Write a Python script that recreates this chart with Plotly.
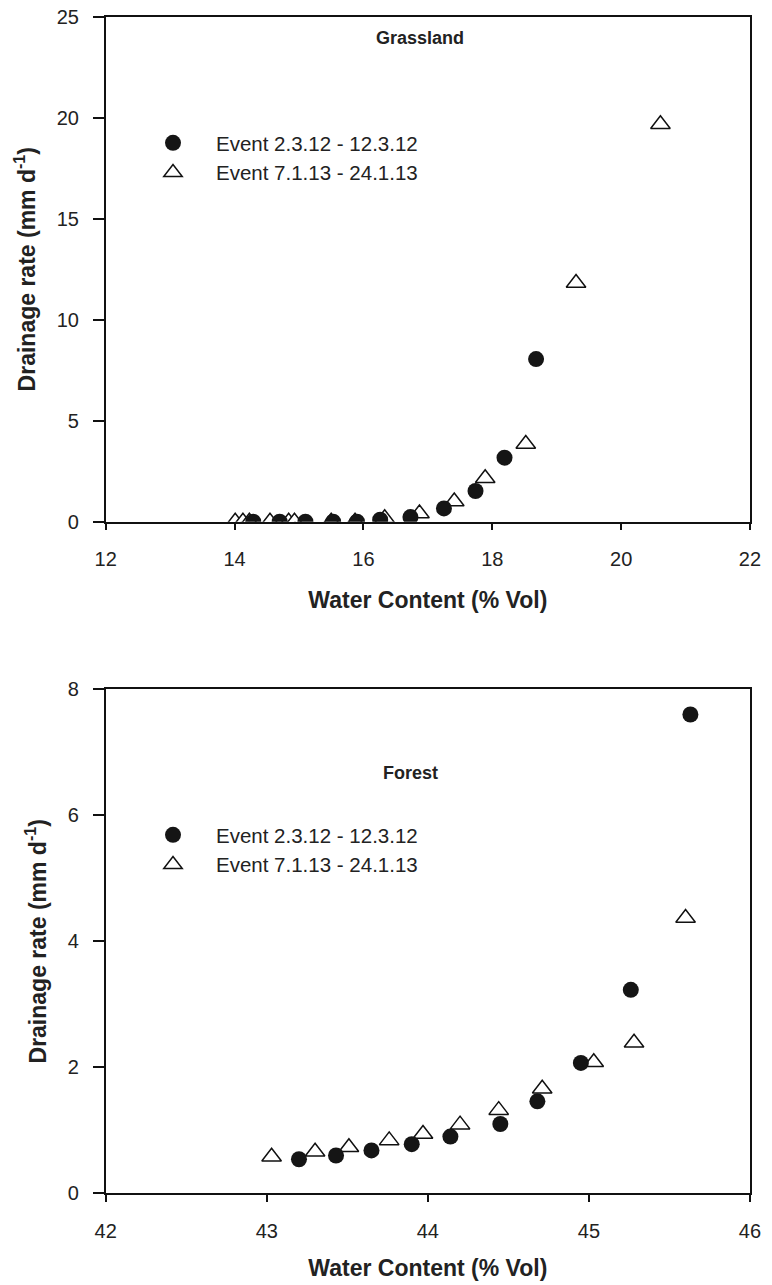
import plotly.graph_objects as go

# ---- data: Grassland ----
grass_ev1_x = [14.29, 14.70, 15.10, 15.53, 15.90, 16.26, 16.73, 17.25, 17.74, 18.19, 18.68]
grass_ev1_y = [0.0, 0.0, 0.0, 0.0, 0.0, 0.10, 0.23, 0.66, 1.52, 3.17, 8.05]
grass_ev2_x = [14.01, 14.13, 14.23, 14.55, 14.84, 14.93, 15.50, 15.87, 16.33, 16.87, 17.41, 17.89, 18.52, 19.30, 20.61]
grass_ev2_y = [0.0, 0.0, 0.0, 0.0, 0.0, 0.0, 0.0, 0.0, 0.17, 0.41, 1.00, 2.15, 3.85, 11.82, 19.68]

# ---- data: Forest ----
forest_ev1_x = [43.20, 43.43, 43.65, 43.90, 44.14, 44.45, 44.68, 44.95, 45.26, 45.63]
forest_ev1_y = [0.54, 0.60, 0.68, 0.78, 0.90, 1.10, 1.46, 2.07, 3.23, 7.60]
forest_ev2_x = [43.03, 43.30, 43.51, 43.76, 43.97, 44.20, 44.44, 44.71, 45.03, 45.28, 45.60]
forest_ev2_y = [0.58, 0.66, 0.73, 0.84, 0.94, 1.09, 1.32, 1.66, 2.08, 2.39, 4.37]

name1 = "Event 2.3.12 - 12.3.12"
name2 = "Event 7.1.13 - 24.1.13"

grass_xticks = [12, 14, 16, 18, 20, 22]
grass_yticks = [0, 5, 10, 15, 20, 25]
forest_xticks = [42, 43, 44, 45, 46]
forest_yticks = [0, 2, 4, 6, 8]

FONT = "Liberation Sans, Arial, sans-serif"
circ = dict(symbol="circle", size=16, color="#151515", line=dict(width=0))
tri = dict(symbol="triangle-up", size=17, color="white", line=dict(color="#111111", width=1.5))

fig = go.Figure()
fig.add_trace(go.Scatter(x=grass_ev2_x, y=grass_ev2_y, mode="markers", marker=tri, name=name2,
                         xaxis="x", yaxis="y", legend="legend", legendrank=2))
fig.add_trace(go.Scatter(x=grass_ev1_x, y=grass_ev1_y, mode="markers", marker=circ, name=name1,
                         xaxis="x", yaxis="y", legend="legend", legendrank=1))
fig.add_trace(go.Scatter(x=forest_ev2_x, y=forest_ev2_y, mode="markers", marker=tri, name=name2,
                         xaxis="x2", yaxis="y2", legend="legend2", legendrank=2))
fig.add_trace(go.Scatter(x=forest_ev1_x, y=forest_ev1_y, mode="markers", marker=circ, name=name1,
                         xaxis="x2", yaxis="y2", legend="legend2", legendrank=1))

axcommon = dict(showgrid=False, zeroline=False, showline=True, linecolor="#111111", linewidth=1.5,
                mirror=True, ticks="outside", tickcolor="#111111", tickwidth=1.5,
                tickfont=dict(family=FONT, size=20, color="#222222"), automargin=False)
titlefont = dict(family=FONT, size=23, color="#222222", weight="bold")

legfont = dict(family=FONT, size=20.5, color="#222222")

fig.update_layout(
    width=772, height=1285,
    margin=dict(l=0, r=0, t=0, b=0),
    paper_bgcolor="white", plot_bgcolor="white",
    showlegend=True,
    xaxis=dict(**axcommon, domain=[0.1369, 0.9715], range=[12, 22], tickvals=grass_xticks, ticklen=7,
               ticklabelstandoff=12, anchor="y",
               title=dict(text="Water Content (% Vol)", font=titlefont, standoff=22)),
    yaxis=dict(**axcommon, domain=[0.5940, 0.9870], range=[0, 25], tickvals=grass_yticks, ticklen=11,
               ticklabelstandoff=10, anchor="x",
               title=dict(text="Drainage rate (mm d<sup>-1</sup>)", font=titlefont, standoff=15)),
    xaxis2=dict(**axcommon, domain=[0.1369, 0.9715], range=[42, 46], tickvals=forest_xticks, ticklen=7,
                ticklabelstandoff=12, anchor="y2",
                title=dict(text="Water Content (% Vol)", font=titlefont, standoff=19)),
    yaxis2=dict(**axcommon, domain=[0.07136, 0.46358], range=[0, 8], tickvals=forest_yticks, ticklen=11,
                ticklabelstandoff=10, anchor="x2",
                title=dict(text="Drainage rate (mm d<sup>-1</sup>)", font=titlefont, standoff=15)),
    legend=dict(x=130 / 772, y=1 - 123 / 1285, xanchor="left", yanchor="top",
                font=legfont, bgcolor="rgba(0,0,0,0)", itemwidth=76, traceorder="normal"),
    legend2=dict(x=130 / 772, y=1 - 815 / 1285, xanchor="left", yanchor="top",
                 font=legfont, bgcolor="rgba(0,0,0,0)", itemwidth=76, traceorder="normal"),
    annotations=[
        dict(text="<b>Grassland</b>", x=16.88, y=23.95, xref="x", yref="y", showarrow=False,
             font=dict(family=FONT, size=18, color="#222222")),
        dict(text="<b>Forest</b>", x=43.89, y=6.67, xref="x2", yref="y2", showarrow=False,
             font=dict(family=FONT, size=18, color="#222222")),
    ],
)

fig.write_html("out.html")
